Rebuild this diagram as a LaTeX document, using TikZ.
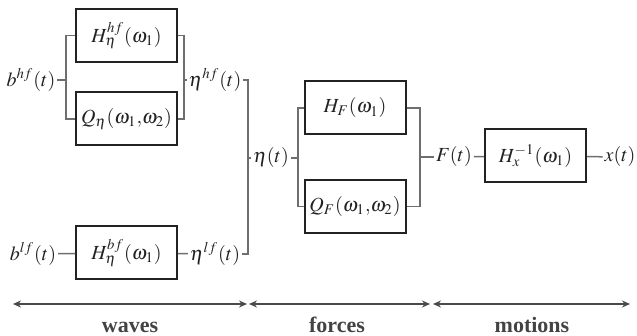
\documentclass[tikz,border=0pt]{standalone}
\usepackage{mathptmx}
\usepackage{fontspec}
\setmainfont{Liberation Serif}
\usetikzlibrary{arrows.meta}
\definecolor{Ink}{HTML}{222222}
\definecolor{Wire}{HTML}{6E6E6E}
\definecolor{Band}{HTML}{4A4A4A}
\tikzset{
  blk/.style={draw=Ink,line width=1pt,minimum width=50.5pt,minimum height=26.5pt,inner sep=0pt,font=\fontsize{10}{12}\selectfont,text=Ink},
  sig/.style={inner sep=0.8pt,font=\fontsize{10}{12}\selectfont,text=Ink},
  wire/.style={draw=Wire,line width=0.75pt},
  band/.style={Band,line width=1.4pt,{Stealth[length=4pt,width=3.5pt]}-{Stealth[length=4pt,width=3.5pt]}},
  bandlabel/.style={anchor=base,inner sep=0pt,font=\fontsize{11}{13}\selectfont\bfseries,text=Ink!85}
}

\begin{document}
\begin{tikzpicture}[x=0.5pt,y=-0.5pt]
\useasboundingbox (0,0) rectangle (637,336);
% waves
\node[blk] (Hhf) at (126.5,35.5) {$H_\eta^{hf}(\omega_1)$};
\node[blk] (Qeta) at (126.5,119) {$Q_\eta(\omega_1{,}\omega_2)$};
\node[blk] (Hbf) at (126.5,253) {$H_\eta^{bf}(\omega_1)$};
\node[sig] (bhf) at (31,80) {$b^{hf}(t)$};
\node[sig] (ehf) at (215,80) {$\eta^{hf}(t)$};
\node[sig] (blf) at (33,254) {$b^{lf}(t)$};
\node[sig] (elf) at (215,254) {$\eta^{lf}(t)$};
\node[sig] (eta) at (271,158) {$\eta(t)$};
% forces
\node[blk] (HF) at (355,108) {$H_F(\omega_1)$};
\node[blk] (QF) at (355,206.5) {$Q_F(\omega_1{,}\omega_2)$};
\node[sig] (F) at (454,157) {$F(t)$};
% motions
\node[blk] (Hx) at (535.5,156) {$H_x^{-1}(\omega_1)$};
\node[sig] (x) at (620,157) {$x(t)$};
% junctions
\coordinate (j1) at (66,80);
\coordinate (j2) at (184,80);
\coordinate (j3) at (248,158);
\coordinate (j4) at (298,158);
\coordinate (j5) at (420,157);
\draw[wire] (bhf) -- (j1);
\draw[wire] (Hhf.west) -| (j1) |- (Qeta.west);
\draw[wire] (Hhf.east) -| (j2) |- (Qeta.east);
\draw[wire] (j2) -- (ehf);
\draw[wire] (blf) -- (Hbf);
\draw[wire] (Hbf) -- (elf);
\draw[wire] (ehf.east) -| (j3) |- (elf.east);
\draw[wire] (j3) -- (eta);
\draw[wire] (eta) -- (j4);
\draw[wire] (HF.west) -| (j4) |- (QF.west);
\draw[wire] (HF.east) -| (j5) |- (QF.east);
\draw[wire] (j5) -- (F);
\draw[wire] (F) -- (Hx);
\draw[wire] (Hx) -- (x);
% ranges
\coordinate (w0) at (13,304);
\coordinate (w1) at (247,304);
\coordinate (f0) at (249,304);
\coordinate (f1) at (430,304);
\coordinate (m0) at (433,304);
\coordinate (m1) at (630,304);
\draw[band] (w0) -- (w1);
\draw[band] (f0) -- (f1);
\draw[band] (m0) -- (m1);
\node[bandlabel] (waves) at (130,332) {waves};
\node[bandlabel] (forces) at (337,332) {forces};
\node[bandlabel] (motions) at (532,332) {motions};
\end{tikzpicture}
\end{document}
